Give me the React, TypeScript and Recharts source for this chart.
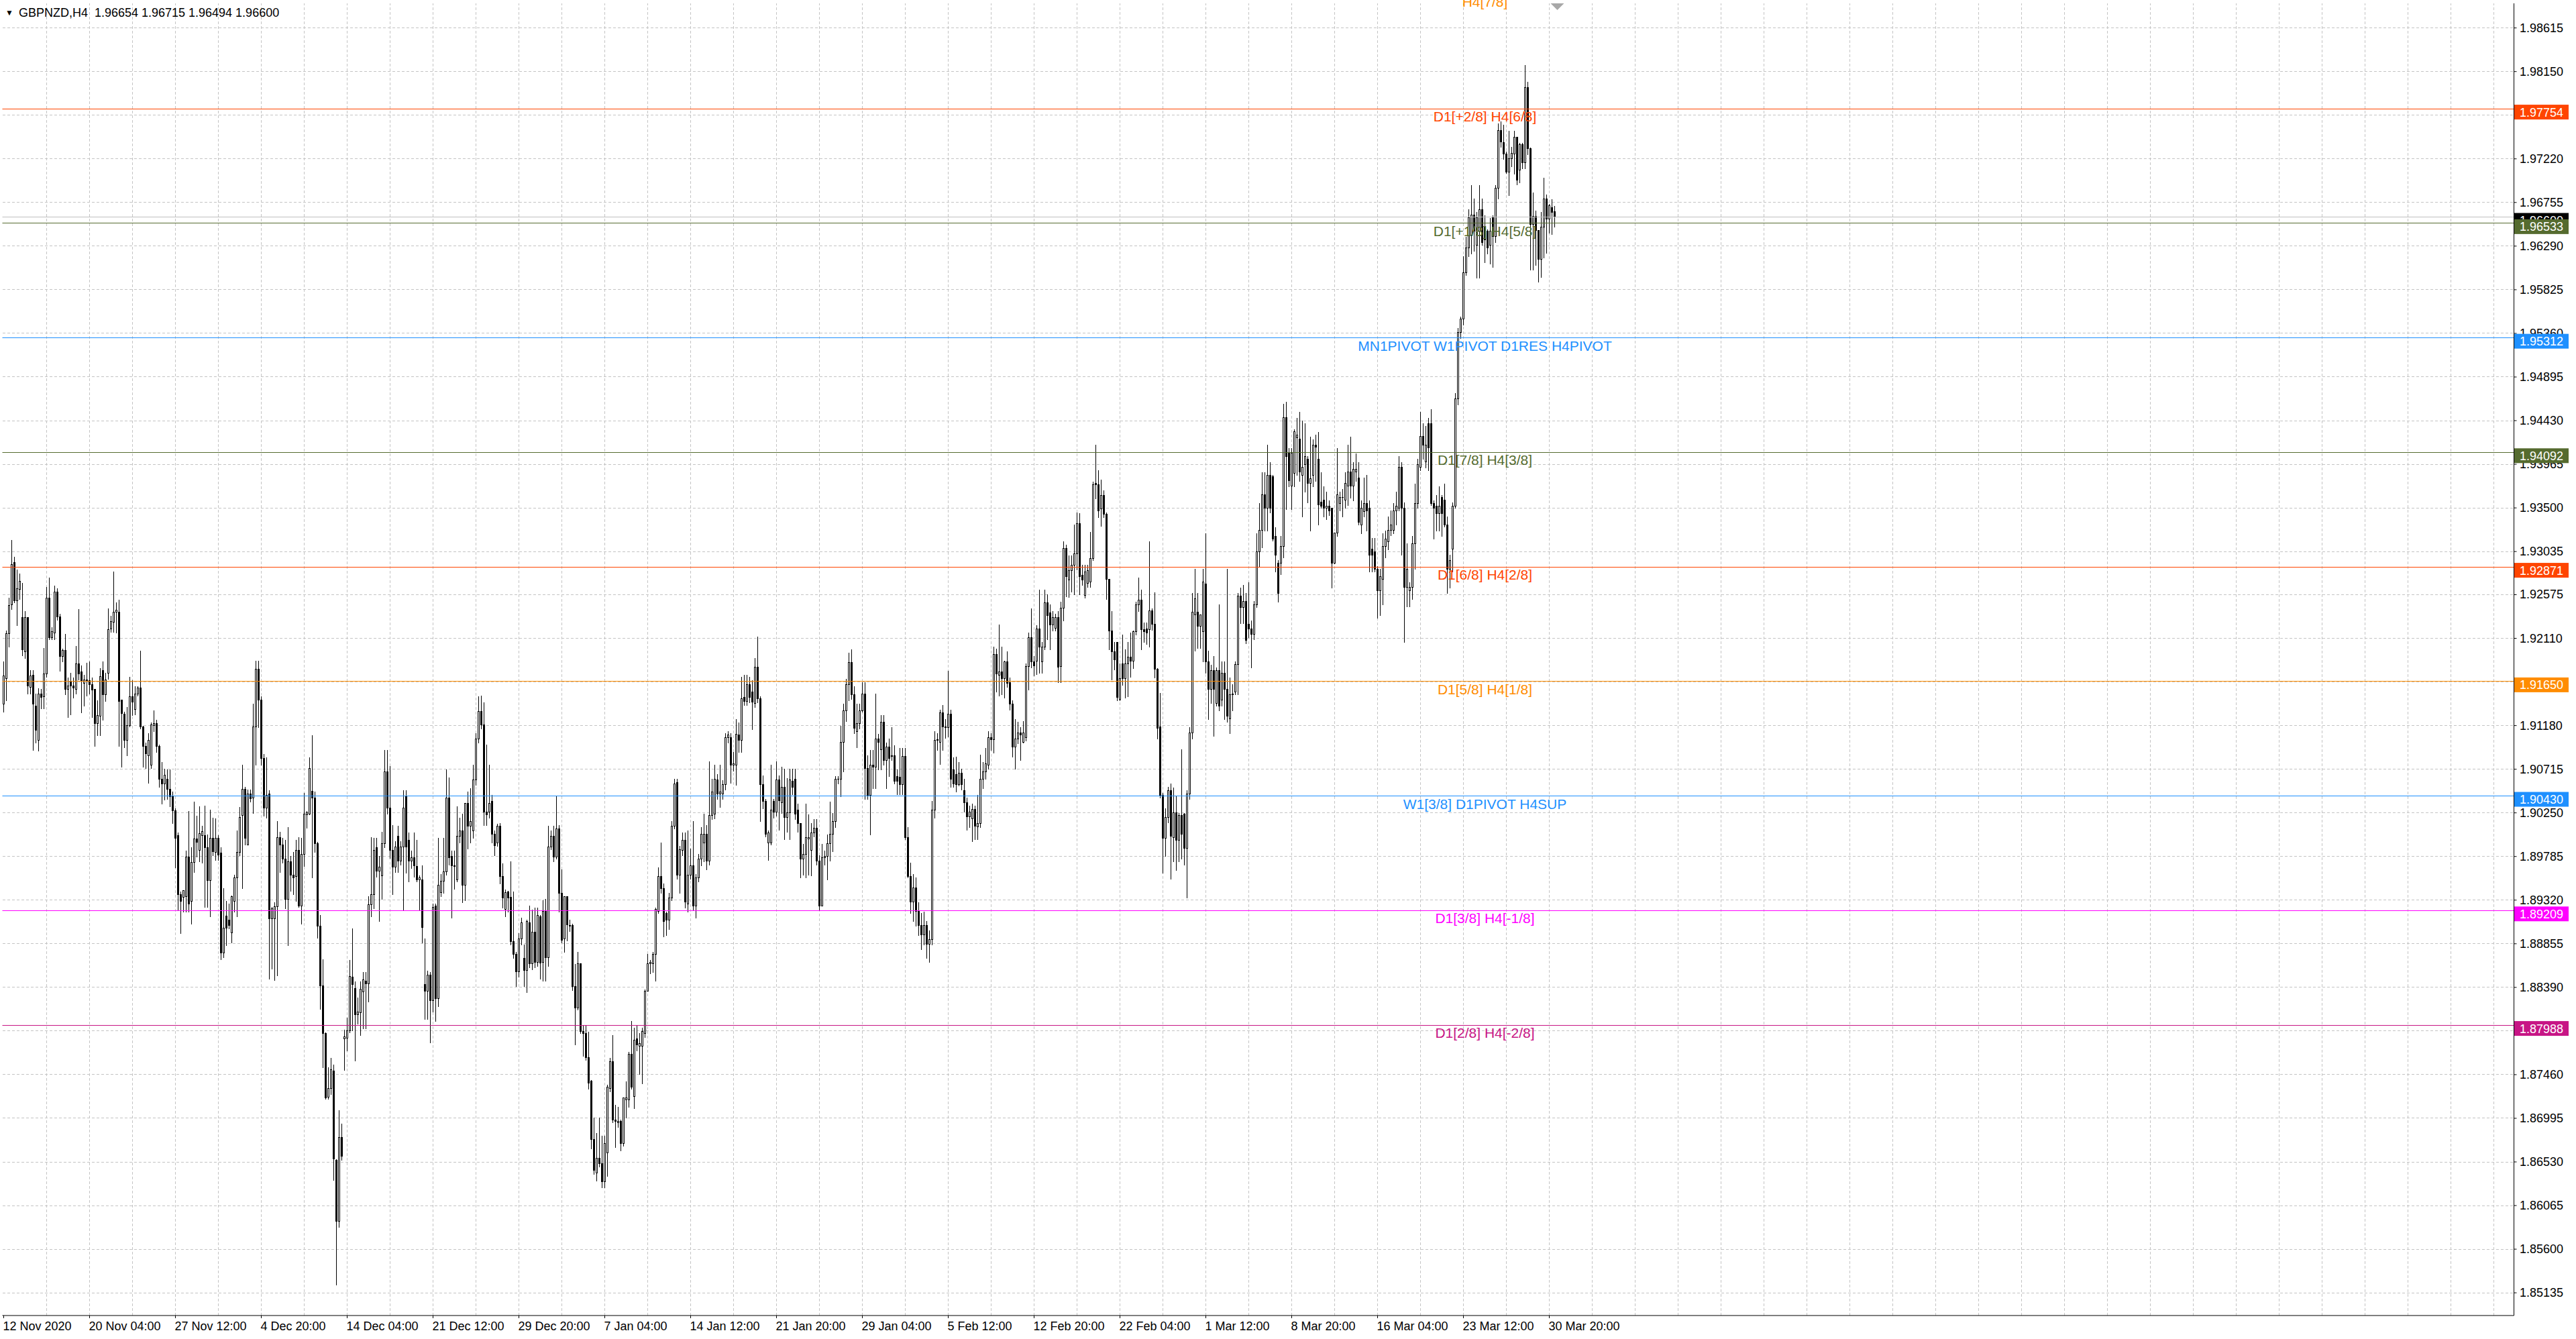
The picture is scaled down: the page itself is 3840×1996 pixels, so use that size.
import React from 'react';
import { ComposedChart, Bar, XAxis, YAxis, CartesianGrid, ReferenceLine, ReferenceDot } from 'recharts';

// Prices are stored as pips (0.0001) above BASE.
const BASE = 1.85;
const PIP = 0.0001;

const OPEN = [
  641,668,716,747,792,751,763,733,697,733, 659,672,639,602,652,649,673,754,712,717,
  760,734,692,698,657,665,660,657,684,675, 663,667,666,662,657,620,628,677,651,674,
  721,728,739,739,645,630,602,618,649,635, 652,658,617,596,586,576,618,620,596,561,
  556,561,550,543,527,501,438,435,436,478, 431,472,497,485,501,501,488,453,498,483,
  498,482,376,415,411,397,431,456,483,522, 550,491,545,541,617,678,645,583,530,545,
  412,412,425,499,491,476,433,473,459,457, 485,426,481,523,524,548,541,492,404,341,
  290,222,231,250,155,90,179,284,285,293, 350,338,310,312,334,346,343,427,438,488,
  463,458,492,569,530,485,467,500,474,489, 543,496,474,477,468,454,454,342,335,352,
  325,426,327,440,452,462,541,479,468,454, 500,506,448,535,511,506,560,604,633,619,
  526,526,537,502,493,511,457,422,441,435, 388,374,356,391,370,357,408,364,398,366,
  414,366,420,371,489,500,478,508,439,391, 436,404,405,340,317,364,292,290,264,239,
  177,141,157,151,132,163,231,260,198,195, 196,173,219,219,268,223,284,276,276,290,
  335,364,364,374,420,457,444,418,411,434, 511,557,459,485,496,428,459,469,426,456,
  476,493,502,474,522,524,560,545,545,555, 605,605,576,576,608,602,648,644,662,654,
  642,680,647,555,537,493,493,537,526,560, 536,552,520,525,559,561,528,514,476,481,
  497,485,504,509,474,426,477,479,492,502, 516,561,561,600,634,662,685,651,612,620,
  634,652,572,544,576,574,604,592,622,581, 595,585,586,564,563,555,585,499,457,430,
  445,420,405,395,405,385,390,528,602,600, 632,617,616,630,571,566,555,567,549,536,
  521,519,529,510,514,561,569,576,605,603, 694,672,675,668,686,664,641,595,604,610,
  600,605,681,712,686,687,721,686,702,749, 738,725,722,733,681,743,807,773,783,789,
  801,833,778,757,770,771,796,876,875,849, 863,843,774,719,697,707,646,684,668,684,
  691,687,718,747,752,720,721,720,740,726, 678,617,544,498,520,549,499,525,496,522,
  524,487,545,610,736,739,724,718,769,686, 657,677,642,677,645,674,657,625,651,654,
  683,756,744,750,726,721,715,747,803,826, 864,850,885,883,820,791,791,809,946,908,
  873,887,925,923,885,896,902,876,885,917, 902,856,858,850,852,850,791,823,855,861,
  858,873,888,873,888,882,832,846,855,850, 806,803,785,762,774,809,814,826,826,847,
  850,893,850,765,762,765,812,855,893,926, 899,940,940,855,852,844,861,858,832,785,
  806,852,966,1037,1051,1101,1127,1141,1162,1130, 1145,1168,1150,1145,1130,1159,1139,1191,1252,1239,
  1227,1208,1222,1227,1245,1210,1237,1218,1298,1233, 1152,1161,1146,1115,1149,1179,1158,1170,1165.4,
];

const HIGH = [
  686,719,754,816,798,784,780,770,740,733, 677,677,652,658,657,701,766,776,723,767,
  764,737,700,716,669,674,669,703,742,682, 672,685,686,669,657,645,679,686,674,743,
  735,782,749,752,645,633,638,670,666,660, 660,698,618,600,610,621,634,624,598,579,
  572,571,571,548,530,504,441,442,485,527, 488,537,522,532,511,533,502,528,520,519,
  501,488,445,431,428,437,459,506,531,576, 553,550,550,641,687,687,649,588,584,549,
  425,430,516,505,498,496,510,479,483,496, 499,498,546,527,584,608,548,494,416,369,
  291,254,264,257,156,208,194,294,307,368, 402,345,328,345,355,355,436,499,498,498,
  479,505,592,592,575,512,495,511,495,549, 549,504,485,504,496,458,469,391,357,355,
  428,428,498,460,498,571,563,485,485,532, 520,524,535,548,551,576,610,649,650,643,
  598,576,544,506,513,514,471,443,442,473, 441,377,397,413,385,411,426,422,424,424,
  416,432,433,511,506,511,543,512,465,436, 436,411,407,364,377,364,299,299,292,240,
  200,184,200,181,181,235,264,288,214,212, 198,221,239,270,303,296,299,290,296,337,
  375,368,377,424,467,493,450,420,440,516, 561,561,490,504,504,506,487,516,460,481,
  510,524,512,580,561,576,566,576,560,610, 612,610,590,625,621,670,672,672,670,666,
  690,713,649,565,540,506,576,540,580,565, 574,572,562,572,572,572,535,514,492,535,
  523,514,518,518,480,492,485,502,537,525, 564,564,618,641,668,696,699,660,641,641,
  664,664,586,592,592,652,609,629,629,600, 604,616,597,571,594,594,594,510,472,460,
  456,430,418,420,410,400,538,612,610,635, 640,625,676,635,584,585,579,572,561,541,
  533,535,533,544,587,579,594,612,610,702, 700,726,702,687,697,669,645,625,622,616,
  623,684,717,743,692,725,763,707,763,758, 747,740,737,740,750,814,811,799,799,832,
  845,844,789,789,789,824,878,917,890,880, 869,845,774,740,707,707,684,715,699,707,
  717,719,750,776,763,728,728,814,743,760, 679,653,546,530,553,556,552,543,525,593,
  525,549,616,759,785,759,736,785,823,698, 683,692,680,747,686,686,785,669,662,686,
  759,765,768,759,771,730,751,823,855,888, 888,917,899,885,829,794,820,961,963,914,
  914,934,946,952,943,940,905,926,923,928, 931,888,873,867,858,850,823,914,867,870,
  888,917,926,899,908,899,858,882,885,858, 818,818,788,785,823,826,841,847,855,867,
  905,899,856,812,771,820,876,902,952,940, 937,946,955,858,864,873,864,876,841,800,
  856,972,1042,1054,1118,1139,1168,1194,1180,1165, 1194,1180,1162,1147,1159,1162,1194,1260,1262,1258,
  1230,1252,1235,1252,1245,1239,1239,1322,1304,1234, 1186,1167,1146,1165,1202,1184,1174,1179,1171.5,
];

const LOW = [
  633,645,702,742,749,725,753,693,690,652, 652,592,600,591,636,636,670,710,710,710,
  731,676,686,651,627,630,648,652,667,632, 639,650,652,627,596,608,608,624,644,668,
  718,718,717,596,574,595,586,617,629,630, 650,615,574,573,557,573,612,590,553,535,
  539,540,532,514,467,421,397,420,420,420, 407,462,478,473,472,425,425,415,480,475,
  475,369,371,384,402,387,420,415,480,445, 491,491,537,525,576,616,576,522,520,348,
  359,347,352,462,472,423,384,442,438,431, 425,407,468,509,523,456,483,392,316,254,
  220,220,225,134,22,84,155,251,272,291, 293,261,300,288,295,295,324,415,423,457,
  410,433,488,524,477,438,462,462,470,421, 461,452,466,457,452,421,387,305,305,280,
  313,303,319,436,440,459,470,413,444,452, 493,430,432,487,493,498,555,600,615,512,
  512,520,493,480,490,450,424,415,420,385, 370,340,350,385,340,334,360,358,360,362,
  348,346,346,362,486,473,476,420,387,377, 389,399,336,278,315,290,266,262,231,167,
  140,133,148,126,126,138,228,195,169,190, 165,170,200,212,231,210,272,247,237,286,
  335,354,355,346,418,440,393,395,401,432, 508,455,440,480,424,420,455,422,413,452,
  469,473,465,470,518,519,540,531,540,550, 600,557,570,555,590,590,640,640,643,614,
  638,643,516,530,500,475,491,520,522,507, 525,497,505,497,545,518,505,456,459,456,
  459,458,500,470,421,426,470,454,474,484, 510,556,543,569,623,645,646,610,595,615,
  633,540,540,502,551,551,571,571,576,551, 564,581,556,545,545,545,497,456,418,410,
  405,395,380,385,370,366,385,520,592,577, 592,605,606,553,553,548,554,550,526,507,
  510,495,497,497,510,551,561,572,592,589, 654,650,651,648,659,635,585,572,599,581,
  600,602,656,680,671,673,674,674,699,710, 699,719,719,664,664,730,756,755,761,758,
  784,758,768,754,766,766,794,860,840,831, 840,753,699,667,678,645,645,661,648,649,
  670,679,715,740,699,707,705,702,720,669, 604,541,461,479,515,455,473,464,473,476,
  470,435,540,604,698,701,701,686,674,625, 642,607,639,634,639,625,622,610,634,651,
  651,727,727,706,712,680,710,744,788,808, 826,826,845,815,782,750,779,797,849,873,
  849,873,885,879,841,867,856,826,873,879, 832,850,841,838,842,765,791,820,847,841,
  850,853,861,858,879,832,823,841,826,782, 782,782,733,736,747,797,806,821,823,832,
  847,800,707,745,745,753,785,850,890,902, 893,890,853,817,826,826,820,830,759,765,
  782,850,960,1031,1045,1098,1118,1121,1124,1095, 1095,1130,1112,1121,1110,1107,1133,1180,1235,1222,
  1207,1183,1214,1206,1195,1197,1212,1212,1227,1104, 1104,1109,1091,1096,1117,1122,1143,1142,1149.4,
];

const CLOSE = [
  671,716,746,790,751,764,772,699,733,660, 671,641,613,652,648,673,754,712,718,760,
  734,692,698,657,660,660,658,684,673,666, 667,666,662,656,620,629,670,651,667,720,
  729,739,741,644,631,602,618,649,643,652, 658,617,596,588,602,619,620,596,561,556,
  565,550,542,527,498,438,431,442,478,428, 472,497,494,503,505,488,453,498,484,498,
  480,376,402,402,405,436,456,483,520,550, 498,545,540,617,678,645,583,530,544,412,
  423,425,499,491,476,433,473,459,456,485, 426,481,524,525,572,541,492,404,341,290,
  221,231,251,156,90,179,159,286,293,351, 342,310,313,337,347,343,427,438,485,463,
  467,492,569,530,485,467,489,474,489,530, 489,474,477,469,454,456,403,335,352,325,
  424,327,448,452,462,541,477,469,469,500, 506,448,535,511,516,560,604,633,619,526,
  523,535,502,490,511,457,434,440,434,388, 374,356,391,408,357,409,364,398,366,416,
  365,420,371,489,500,478,508,439,389,436, 406,405,340,317,364,292,290,264,237,177,
  144,157,151,132,173,233,260,198,196,196, 173,221,221,268,233,283,278,279,292,335,
  364,366,374,422,457,444,409,411,434,511, 556,459,486,496,430,459,469,426,456,476,
  502,502,474,522,547,561,545,547,555,605, 608,576,577,609,602,647,644,662,648,643,
  680,647,555,537,502,504,528,526,560,538, 552,520,525,560,552,524,514,476,481,499,
  499,504,509,474,426,477,479,492,502,516, 561,561,600,634,662,685,651,615,620,634,
  652,572,544,576,574,604,600,622,581,595, 583,586,559,559,555,585,499,457,430,445,
  420,405,395,405,385,390,528,602,603,632, 617,616,630,561,556,555,567,555,536,521,
  526,529,511,514,561,569,577,605,603,694, 673,675,668,686,663,641,595,604,610,608,
  610,681,712,686,682,721,702,702,749,735, 725,733,733,680,743,807,777,783,789,801,
  833,777,773,782,783,796,875,875,847,863, 843,774,719,697,688,648,668,668,684,691,
  687,718,747,752,720,718,717,740,726,678, 615,544,498,520,549,500,525,496,522,502,
  487,545,610,739,753,724,736,771,686,657, 677,657,677,639,674,657,628,651,652,683,
  756,744,750,709,721,715,747,803,826,864, 850,885,850,817,800,759,809,946,905,879,
  908,931,928,888,893,905,876,881,917,915, 853,852,850,852,847,791,823,864,861,861,
  876,888,873,891,891,835,850,855,847,800, 800,785,762,777,809,817,826,832,847,852,
  893,850,765,785,765,812,855,896,926,917, 917,914,855,850,844,852,844,832,785,794,
  852,966,1037,1051,1101,1127,1159,1162,1145,1159, 1168,1133,1136,1127,1145,1139,1191,1252,1240,1227,
  1208,1222,1228,1245,1199,1237,1218,1298,1233,1152, 1161,1146,1115,1149,1179,1158,1172,1165,1160,
];

const SLOT_COUNT = 936;
const DATE_STEP = 32;
const DATE_LABELS = [
  '12 Nov 2020', '20 Nov 04:00', '27 Nov 12:00', '4 Dec 20:00', '14 Dec 04:00', '21 Dec 12:00',
  '29 Dec 20:00', '7 Jan 04:00', '14 Jan 12:00', '21 Jan 20:00', '29 Jan 04:00', '5 Feb 12:00',
  '12 Feb 20:00', '22 Feb 04:00', '1 Mar 12:00', '8 Mar 20:00', '16 Mar 04:00', '23 Mar 12:00',
  '30 Mar 20:00',
];
const GRID_STEP = 16;

const PRICE_TICKS = [
  1.98615, 1.98150, 1.97685, 1.97220, 1.96755, 1.96290, 1.95825, 1.95360, 1.94895, 1.94430,
  1.93965, 1.93500, 1.93035, 1.92575, 1.92110, 1.91645, 1.91180, 1.90715, 1.90250, 1.89785,
  1.89320, 1.88855, 1.88390, 1.87925, 1.87460, 1.86995, 1.86530, 1.86065, 1.85600, 1.85135,
];
const Y_BOTTOM = 1.84893;
const Y_TOP = 1.98877;

const LEVEL_PRICES = [1.98975, 1.97754, 1.96533, 1.95312, 1.94092, 1.92871, 1.91650, 1.90430, 1.89209, 1.87988];
const LEVEL_NAMES = [
  'H4[7/8]', 'D1[+2/8] H4[6/8]', 'D1[+1/8] H4[5/8]', 'MN1PIVOT W1PIVOT D1RES H4PIVOT',
  'D1[7/8] H4[3/8]', 'D1[6/8] H4[2/8]', 'D1[5/8] H4[1/8]', 'W1[3/8] D1PIVOT H4SUP',
  'D1[3/8] H4[-1/8]', 'D1[2/8] H4[-2/8]',
];
const LEVEL_COLORS = ['#FF8C00', '#FF4500', '#556B2F', '#1E90FF', '#556B2F', '#FF4500', '#FF8C00', '#1E90FF', '#FF00FF', '#C71585'];
const LEVEL_LABEL_SLOT = 552;

const SYMBOL = 'GBPNZD,H4';
const LAST_BAR = { open: 1.96654, high: 1.96715, low: 1.96494, close: 1.96600 };

const FONT = "'Liberation Sans', Arial, sans-serif";

const rows = Array.from({ length: SLOT_COUNT }, (_, i) => {
  if (i < CLOSE.length) {
    const o = BASE + OPEN[i] * PIP;
    const h = BASE + HIGH[i] * PIP;
    const l = BASE + LOW[i] * PIP;
    const c = BASE + CLOSE[i] * PIP;
    return { i, o, h, l, c, range: [l, h] };
  }
  return { i, range: null };
});

const dateTicks = DATE_LABELS.map((_, k) => k * DATE_STEP);
const gridSlots: number[] = [];
for (let s = GRID_STEP; s < SLOT_COUNT; s += GRID_STEP) gridSlots.push(s);

// price boxes on the right scale: drawn after the plain tick labels (later = on top)
const boxPrices: number[] = [];
const boxColors: string[] = [];
[1, 3, 4, 5, 6, 7, 8, 9].forEach((k) => {
  boxPrices.push(LEVEL_PRICES[k]);
  boxColors.push(LEVEL_COLORS[k]);
});
boxPrices.push(LAST_BAR.close);
boxColors.push('#000000');
boxPrices.push(LEVEL_PRICES[2]);
boxColors.push(LEVEL_COLORS[2]);
const axisTicks = [...PRICE_TICKS, ...boxPrices];

const snap = (v: number) => Math.round(v - 0.5) + 0.5;

const Candle = (props: any) => {
  const { x, y, width, height, payload } = props;
  if (!payload || payload.o == null || x == null || y == null) return null;
  const { o, h, l, c } = payload;
  const yHi = Math.min(y, y + height);
  const yLo = Math.max(y, y + height);
  const toY = (p: number) => (h === l ? yHi : yHi + ((h - p) / (h - l)) * (yLo - yHi));
  const cx = Math.floor(x + width / 2) + 0.5;
  const top = snap(toY(Math.max(o, c)));
  const bot = snap(toY(Math.min(o, c)));
  const bull = c >= o;
  return (
    <g>
      <line x1={cx} x2={cx} y1={Math.round(toY(h))} y2={Math.round(toY(l)) + 1} stroke="#000" strokeWidth={1} />
      {bot - top < 1 ? (
        <line x1={cx - 1.5} x2={cx + 1.5} y1={top} y2={top} stroke="#000" strokeWidth={1} />
      ) : (
        <rect x={cx - 1} y={top} width={2} height={bot - top} fill={bull ? '#fff' : '#000'} stroke="#000" strokeWidth={1} />
      )}
    </g>
  );
};

const XTick = (props: any) => {
  const { x, y, payload } = props;
  const k = Math.round(payload.value / DATE_STEP);
  return (
    <text x={x - 1} y={y + 12} textAnchor="start" dominantBaseline="central" fontSize={18} fontFamily={FONT} fill="#000">
      {DATE_LABELS[k]}
    </text>
  );
};

const YTick = (props: any) => {
  const { x, y, payload } = props;
  const v = Number(payload.value);
  const bi = boxPrices.findIndex((p) => Math.abs(p - v) < 1e-9);
  if (bi >= 0) {
    return (
      <g>
        <rect x={x - 5.5} y={y - 6} width={81} height={22} fill={boxColors[bi]} />
        <text x={x + 2.5} y={y + 5.5} textAnchor="start" dominantBaseline="central" fontSize={18} fontFamily={FONT} fill="#fff">
          {v.toFixed(5)}
        </text>
      </g>
    );
  }
  return (
    <text x={x + 2.5} y={y} textAnchor="start" dominantBaseline="central" fontSize={18} fontFamily={FONT} fill="#000">
      {v.toFixed(5)}
    </text>
  );
};

// crisp 1px horizontal level line
const hLine = (color: string) => (p: any) => {
  if (p == null || p.x1 == null || p.y1 == null) return null;
  const yy = snap(p.y1);
  return <line x1={p.x1} x2={p.x2} y1={yy} y2={yy} stroke={color} strokeWidth={1} />;
};

// crisp 1px dashed vertical grid line
const vGrid = (p: any) => {
  if (p == null || p.x1 == null || p.y1 == null) return null;
  const xx = snap(p.x1);
  return <line x1={xx} x2={xx} y1={p.y1} y2={p.y2} stroke="#c4c4c4" strokeWidth={1} strokeDasharray="4 3" />;
};

const levelText = (text: string, color: string) => (p: any) => (
  <text x={p.cx} y={p.cy + 19} textAnchor="middle" fontSize={21} fontFamily={FONT} fill={color}>
    {text}
  </text>
);

const shiftMarker = (p: any) => (
  <polygon points={`${p.cx - 10},${p.cy} ${p.cx + 10},${p.cy} ${p.cx},${p.cy + 10}`} fill="#a8a8a8" />
);

export default function App() {
  const lineOrder = [1, 3, 4, 5, 6, 7, 8, 9, 2];
  return (
    <div style={{ position: 'absolute', left: 0, top: 0, width: 3840, height: 1996, background: '#fff' }}>
      <ComposedChart
        width={3840}
        height={1996}
        data={rows}
        margin={{ top: 5, right: 0, bottom: 5, left: 3.5 }}
        barCategoryGap={0}
        barGap={0}
      >
        <CartesianGrid
          vertical={false}
          horizontalValues={PRICE_TICKS}
          stroke="#c4c4c4"
          strokeDasharray="4 3"
          shapeRendering="crispEdges"
        />
        <XAxis
          dataKey="i"
          type="category"
          ticks={dateTicks}
          interval={0}
          tick={<XTick />}
          tickSize={4}
          tickMargin={0}
          axisLine={{ stroke: '#000' }}
          tickLine={{ stroke: '#000' }}
          height={30}
        />
        <XAxis
          xAxisId="top"
          dataKey="i"
          type="category"
          orientation="top"
          height={0}
          tick={false}
          tickLine={false}
          axisLine={{ stroke: '#000' }}
        />
        <YAxis
          type="number"
          orientation="right"
          domain={[Y_BOTTOM, Y_TOP]}
          allowDataOverflow
          ticks={axisTicks}
          interval={0}
          tick={<YTick />}
          tickSize={4}
          tickMargin={2}
          width={92.5}
          axisLine={{ stroke: '#000' }}
          tickLine={{ stroke: '#000' }}
        />
        <YAxis yAxisId="left" type="number" orientation="left" domain={[Y_BOTTOM, Y_TOP]} width={0} tick={false} tickLine={false} axisLine={{ stroke: '#000' }} />
        {gridSlots.map((s) => (
          <ReferenceLine key={'g' + s} x={s} zIndex={-50} shape={vGrid} />
        ))}
        <Bar dataKey="range" shape={<Candle />} isAnimationActive={false} />
        <ReferenceLine y={LAST_BAR.close} shape={hLine('#c0c0c0')} />
        {lineOrder.map((k) => (
          <ReferenceLine key={'l' + k} y={LEVEL_PRICES[k]} shape={hLine(LEVEL_COLORS[k])} />
        ))}
        {LEVEL_PRICES.map((p, k) => (
          <ReferenceDot
            key={'t' + k}
            x={LEVEL_LABEL_SLOT}
            y={p}
            r={0}
            ifOverflow="visible"
            shape={levelText(LEVEL_NAMES[k], LEVEL_COLORS[k])}
          />
        ))}
        <ReferenceDot x={CLOSE.length} y={Y_TOP} r={0} ifOverflow="visible" shape={shiftMarker} />
      </ComposedChart>
      <div
        style={{
          position: 'absolute',
          left: 8,
          top: 8,
          fontFamily: FONT,
          fontSize: 18,
          color: '#000',
          whiteSpace: 'pre',
          lineHeight: '22px',
        }}
      >
        <span style={{ fontSize: 12, marginRight: 8, position: 'relative', top: -2 }}>▼</span>
        {`${SYMBOL}  ${LAST_BAR.open.toFixed(5)} ${LAST_BAR.high.toFixed(5)} ${LAST_BAR.low.toFixed(5)} ${LAST_BAR.close.toFixed(5)}`}
      </div>
    </div>
  );
}
